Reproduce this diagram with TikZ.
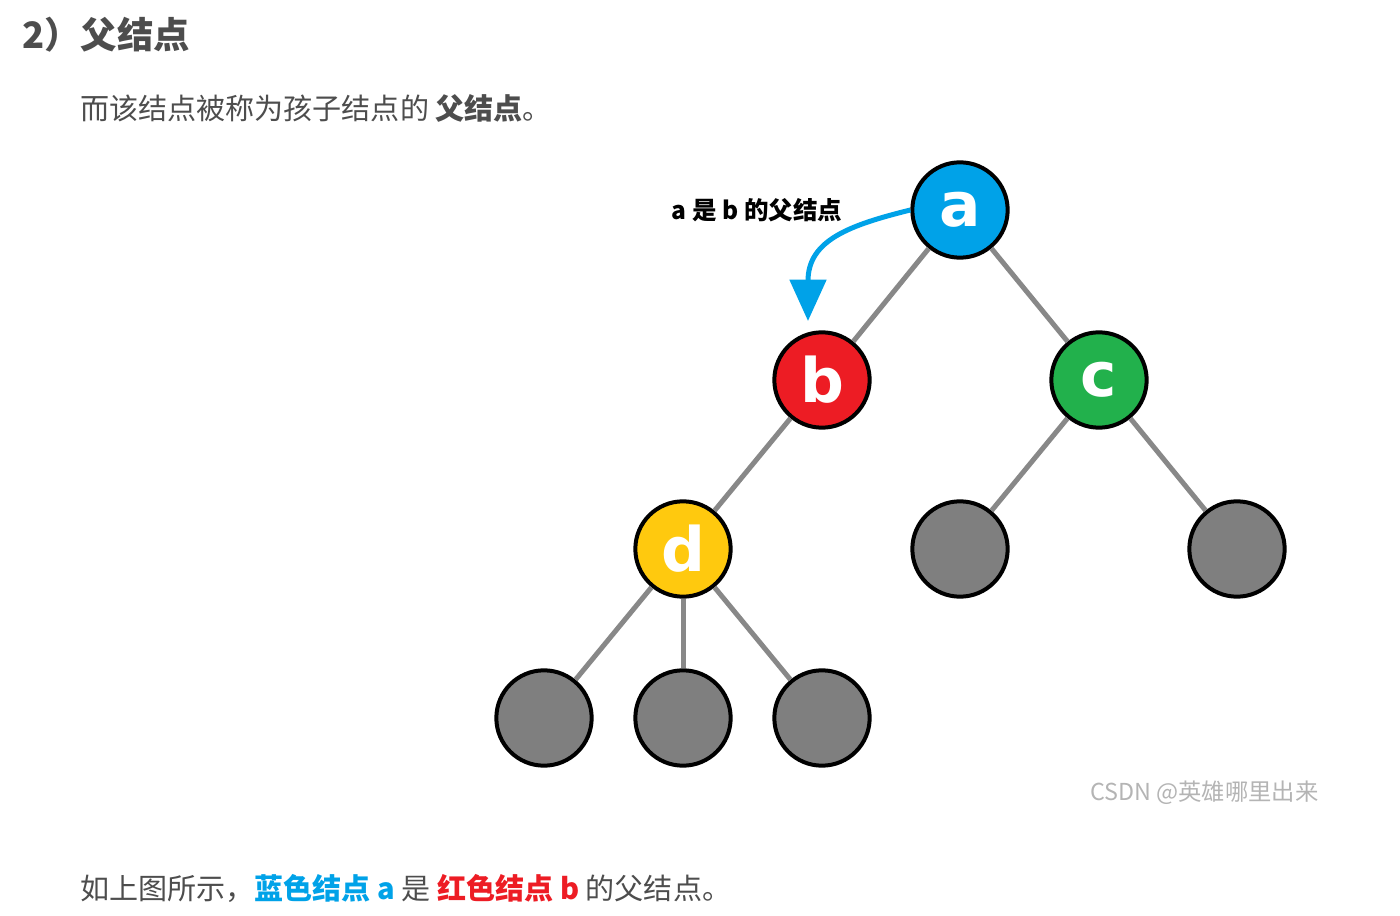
\documentclass[tikz,border=0pt]{standalone}
\usepackage{fontspec}
\setmainfont{Noto Sans CJK SC}
\newfontfamily\letterfont{DejaVu Sans}
\usetikzlibrary{arrows.meta}

\definecolor{bodygray}{HTML}{4D4D4D}
\definecolor{nodeblue}{HTML}{00A2E8}
\definecolor{nodered}{HTML}{ED1C24}
\definecolor{nodegreen}{HTML}{22B14C}
\definecolor{nodeyellow}{HTML}{FFC90E}
\definecolor{leafgray}{HTML}{7F7F7F}
\definecolor{edgegray}{HTML}{888888}
\definecolor{markgray}{HTML}{B4B4B4}

\begin{document}
\begin{tikzpicture}[x=0.75pt,y=-0.75pt]
    % ===== PARAMETERS =====
    \pgfmathsetmacro{\D}{71.5}   % circle diameter in pt
    \pgfmathsetmacro{\LW}{3}     % circle border in pt
    \pgfmathsetmacro{\EW}{3.75}  % edge width in pt

    \useasboundingbox (0,0) rectangle (1400,916);

    % ===== STYLES =====
    \tikzset{
        treenode/.style={
            circle, draw=black, line width=\LW pt,
            minimum size=\D pt, inner sep=0pt,
            text=white, font=\letterfont\bfseries\fontsize{46}{46}\selectfont
        },
        leafnode/.style={treenode, fill=leafgray},
        branch/.style={draw=edgegray, line width=\EW pt},
        bodytext/.style={
            anchor=west, inner sep=0pt, text=bodygray,
            font=\fontsize{21.8}{21.8}\selectfont
        }
    }

    % ===== TEXT ABOVE =====
    \node[bodytext, font=\bfseries\fontsize{27.3}{27.3}\selectfont] (title) at (22,35) {2）父结点};
    \node[bodytext] (intro) at (80,108) {而该结点被称为孩子结点的 \textbf{父结点}。};

    % ===== TREE =====
    \node[treenode, fill=nodeblue]   (a) at (960,210) {a};
    \node[treenode, fill=nodered]    (b) at (822,380) {b};
    \node[treenode, fill=nodegreen]  (c) at (1099,380) {c};
    \node[treenode, fill=nodeyellow] (d) at (683,549) {d};
    \node[leafnode] (c1) at (960,549) {};
    \node[leafnode] (c2) at (1237,549) {};
    \node[leafnode] (d1) at (544,718) {};
    \node[leafnode] (d2) at (683,718) {};
    \node[leafnode] (d3) at (822,718) {};

    % Edges
    \draw[branch] (a) -- (b);
    \draw[branch] (a) -- (c);
    \draw[branch] (b) -- (d);
    \draw[branch] (c) -- (c1);
    \draw[branch] (c) -- (c2);
    \draw[branch] (d) -- (d1);
    \draw[branch] (d) -- (d2);
    \draw[branch] (d) -- (d3);

    % ===== PARENT HINT =====
    \node[inner sep=0pt, font=\bfseries\fontsize{18.4}{18.4}\selectfont] (hint) at (757,210) {a 是 b 的父结点};
    \coordinate (bhint) at (808,321);
    \draw[nodeblue, line width=\EW pt, -{Triangle[width=27pt,length=31pt]}]
        (a.west) .. controls (850,225) and (808,240) .. (bhint);

    % ===== TEXT BELOW =====
    \node[anchor=west, inner sep=0pt, text=markgray, font=\fontsize{17.5}{17.5}\selectfont] (mark) at (1090,793) {CSDN @英雄哪里出来};
    \node[bodytext] (summary) at (80,888) {如上图所示，\textcolor{nodeblue}{\textbf{蓝色结点 a}} 是 \textcolor{nodered}{\textbf{红色结点 b}} 的父结点。};
\end{tikzpicture}
\end{document}
